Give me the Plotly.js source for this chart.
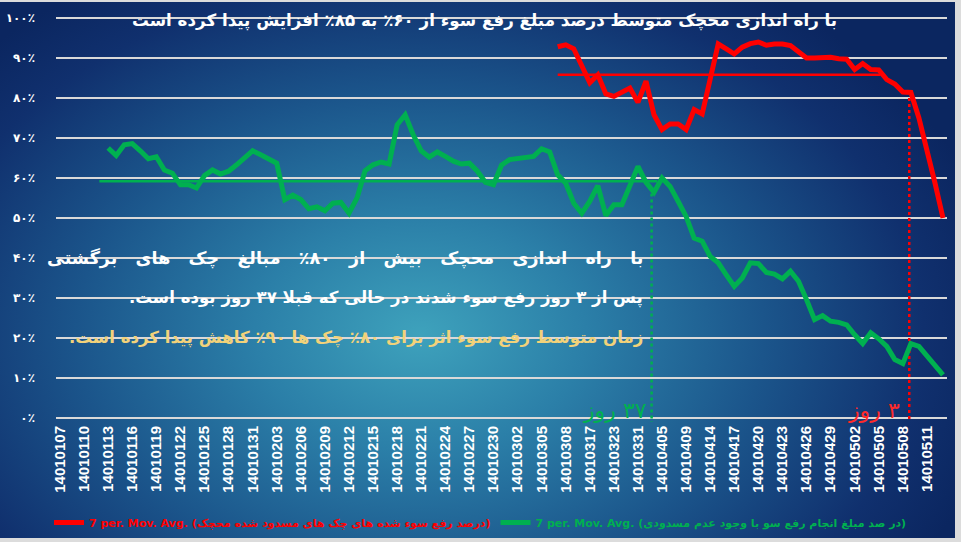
<!DOCTYPE html>
<html>
<head>
<meta charset="utf-8">
<script src="https://cdn.plot.ly/plotly-3.0.1.min.js"></script>
<style>
  html, body { margin: 0; padding: 0; width: 961px; height: 542px; overflow: hidden; background: #dcdcdc; }
  #bg { position: absolute; left: 0; top: 2px; width: 955px; height: 536px;
        background: radial-gradient(ellipse 62% 78% at 44% 62%, #3ea2bc 0%, #2b7fa8 28%, #1b558b 58%, #10306e 85%, #0b2660 100%); }
  #chart { position: absolute; left: 0; top: 0; width: 961px; height: 542px; }
</style>
</head>
<body>
<div id="bg"></div>
<div id="chart"></div>
<script>
// ---- categories (trading dates) ----
const dates = [
  "14010107","14010108","14010109","14010110","14010111","14010112","14010113","14010114","14010115",
  "14010116","14010117","14010118","14010119","14010120","14010121","14010122","14010123","14010124",
  "14010125","14010126","14010127","14010128","14010129","14010130","14010131","14010201","14010202",
  "14010203","14010204","14010205","14010206","14010207","14010208","14010209","14010210","14010211",
  "14010212","14010213","14010214","14010215","14010216","14010217","14010218","14010219","14010220",
  "14010221","14010222","14010223","14010224","14010225","14010226","14010227","14010228","14010229",
  "14010230","14010231","14010301","14010302","14010303","14010304","14010305","14010306","14010307",
  "14010308","14010309","14010310","14010317","14010320","14010321","14010323","14010325","14010328",
  "14010331","14010401","14010404","14010405","14010407","14010408","14010409","14010411","14010413",
  "14010414","14010415","14010416","14010417","14010418","14010419","14010420","14010421","14010422",
  "14010423","14010424","14010425","14010426","14010427","14010428","14010429","14010430","14010501",
  "14010502","14010503","14010504","14010505","14010506","14010507","14010508","14010509","14010510",
  "14010511","14010512","14010513"
];
// ---- x tick labels (every third date) ----
const tickLabels = [
  "14010107","14010110","14010113","14010116","14010119","14010122","14010125","14010128","14010131",
  "14010203","14010206","14010209","14010212","14010215","14010218","14010221","14010224","14010227",
  "14010230","14010302","14010305","14010308","14010317","14010323","14010331","14010405","14010409",
  "14010414","14010417","14010420","14010423","14010426","14010429","14010502","14010505","14010508",
  "14010511"
];
// ---- y tick labels ----
const yTickVals = [0,10,20,30,40,50,60,70,80,90,100];
const yTickText = ["۰٪","۱۰٪","۲۰٪","۳۰٪","۴۰٪","۵۰٪","۶۰٪","۷۰٪","۸۰٪","۹۰٪","۱۰۰٪"];

// ---- series: 7-period moving averages (%), starting at given date index ----
const greenStart = 6;
const greenMA = [
  67.5,65.6,68.3,68.6,66.8,64.8,65.3,62.0,61.2,58.3,58.3,57.5,60.6,62.0,61.0,61.7,63.3,65.2,66.8,65.8,
  64.8,63.7,54.6,55.7,54.6,52.3,52.8,51.8,53.7,53.9,51.2,55.0,61.8,63.3,64.0,63.5,73.3,75.8,70.8,66.8,
  65.2,66.5,65.4,64.2,63.5,63.7,61.7,58.9,58.3,63.2,64.6,64.8,65.0,65.4,67.3,66.5,60.8,58.7,53.7,51.2,
  54.2,58.1,50.6,53.3,53.3,58.1,62.9,58.9,56.4,60.0,57.9,54.2,50.4,45.0,44.2,40.4,38.8,35.8,32.9,35.0,
  38.8,38.6,36.4,36.0,34.8,36.7,34.2,29.6,24.6,25.6,24.2,23.9,23.3,20.8,18.6,21.3,19.8,17.9,14.6,13.6,
  18.6,17.9,15.4,12.9,10.8
];
const redStart = 62;
const redMA = [
  92.8,93.3,92.3,88.0,83.8,85.8,81.0,80.4,81.3,82.5,78.9,84.2,75.8,72.1,73.5,73.5,72.1,77.1,76.0,85.0,
  93.5,92.3,91.0,92.7,93.6,94.0,93.2,93.5,93.5,93.1,91.5,90.0,90.0,90.2,90.2,89.8,89.7,87.1,88.6,87.1,
  87.0,84.6,83.5,81.5,81.4,75.0,67.5,58.8,50.0
];

// ---- average levels and their spans (date index) ----
const greenAvg = 59.2, greenAvgFrom = 4.9, greenAvgTo = 74.4;
const redAvg = 85.8, redAvgFrom = 62, redAvgTo = 102.2;
// ---- reference days (date index, top value) ----
const greenRefIdx = 73.7, greenRefTop = 57.6;
const redRefIdx = 105.8, redRefTop = 80.0;

const GREEN = "#00b050", RED = "#ff0000";
const FA = "DejaVu Sans, Noto Sans, sans-serif";
const RLM = "\u200F";
const GAP = "\u00A0\u00A0 ";

const traces = [
  {
    type: "scatter", mode: "lines",
    x: dates.slice(redStart, redStart + redMA.length), y: redMA,
    line: {color: RED, width: 5},
    name: '<span style="color:#ff0000">7 per. Mov. Avg. (درصد رفع سوء شده های چک های مسدود شده محچک)</span>'
  },
  {
    type: "scatter", mode: "lines",
    x: dates.slice(greenStart, greenStart + greenMA.length), y: greenMA,
    line: {color: GREEN, width: 5},
    name: '<span style="color:#00b050">7 per. Mov. Avg. (در صد مبلغ انجام رفع سو با وجود عدم مسدودی)</span>'
  }
];

const layout = {
  width: 961, height: 542,
  paper_bgcolor: "rgba(0,0,0,0)", plot_bgcolor: "rgba(0,0,0,0)",
  margin: {l: 56, r: 14, t: 14, b: 120, autoexpand: false},
  showlegend: true,
  legend: {orientation: "h", x: 0.5, xanchor: "center", xref: "container",
           y: 0.036, yanchor: "middle", yref: "container",
           font: {family: FA, size: 11, weight: "bold"}, bgcolor: "rgba(0,0,0,0)",
           itemwidth: 30, tracegroupgap: 0},
  xaxis: {
    type: "category", categoryorder: "array", categoryarray: dates,
    range: [-0.5, dates.length - 0.5], automargin: false,
    tickmode: "array", tickvals: tickLabels, ticktext: tickLabels,
    tickangle: -90, showgrid: false, zeroline: false, showline: false, ticks: "",
    tickfont: {family: "Liberation Sans, Arial, sans-serif", size: 15, color: "#ffffff", weight: "bold"}
  },
  yaxis: {
    range: [-1, 101], automargin: false, tickmode: "array", tickvals: yTickVals, ticktext: yTickText,
    showgrid: true, gridcolor: "#d9d9d9", gridwidth: 1.5, zeroline: false, showline: false, ticks: "",
    ticklabelstandoff: 20,
    tickfont: {family: FA, size: 12, color: "#ffffff", weight: "bold"}
  },
  shapes: [
    {type: "line", xref: "x", yref: "y", x0: greenAvgFrom, x1: greenAvgTo, y0: greenAvg, y1: greenAvg,
     line: {color: GREEN, width: 2.5}, layer: "between"},
    {type: "line", xref: "x", yref: "y", x0: redAvgFrom, x1: redAvgTo, y0: redAvg, y1: redAvg,
     line: {color: RED, width: 2.5}, layer: "between"},
    {type: "line", xref: "x", yref: "y", x0: greenRefIdx, x1: greenRefIdx, y0: greenRefTop, y1: -1,
     line: {color: GREEN, width: 2.5, dash: "dot"}, layer: "between"},
    {type: "line", xref: "x", yref: "y", x0: redRefIdx, x1: redRefIdx, y0: redRefTop, y1: -1,
     line: {color: RED, width: 2.5, dash: "dot"}, layer: "between"}
  ],
  annotations: [
    {xref: "paper", yref: "y", x: 0.481, y: 99.5, xanchor: "center", yanchor: "middle", showarrow: false,
     text: "با راه اندازی محچک متوسط درصد مبلغ رفع سوء از ۶۰٪ به ۸۵٪ افزایش پیدا کرده است",
     font: {family: FA, size: 16.7, color: "#ffffff", weight: "bold"}},
    {xref: "x", yref: "y", x: 72.9, y: 40, xanchor: "right", yanchor: "middle", showarrow: false, align: "right",
     text: ["با","راه","اندازی","محچک","بیش","از","۸۰٪","مبالغ","چک","های","برگشتی"].join(GAP),
     font: {family: FA, size: 17.5, color: "#ffffff", weight: "bold"}},
    {xref: "x", yref: "y", x: 72.9, y: 30, xanchor: "right", yanchor: "middle", showarrow: false, align: "right",
     text: "پس از ۳ روز رفع سوء شدند در حالی که قبلا ۳۷ روز بوده است." + RLM,
     font: {family: FA, size: 16.6, color: "#ffffff", weight: "bold"}},
    {xref: "x", yref: "y", x: 72.9, y: 20, xanchor: "right", yanchor: "middle", showarrow: false, align: "right",
     text: "زمان متوسط رفع سوء اثر برای ۸۰٪ چک ها ۹۰٪ کاهش پیدا کرده است." + RLM,
     font: {family: FA, size: 16.6, color: "#f2d27a", weight: "bold"}},
    {xref: "x", yref: "y", x: 69.2, y: 2, xanchor: "center", yanchor: "middle", showarrow: false,
     text: RLM + "۳۷ روز", font: {family: FA, size: 22, color: GREEN}},
    {xref: "x", yref: "y", x: 101.4, y: 2, xanchor: "center", yanchor: "middle", showarrow: false,
     text: RLM + "۳ روز", font: {family: FA, size: 22, color: "#ff2a2a"}}
  ]
};

Plotly.newPlot("chart", traces, layout, {displayModeBar: false, staticPlot: true});
</script>
</body>
</html>
